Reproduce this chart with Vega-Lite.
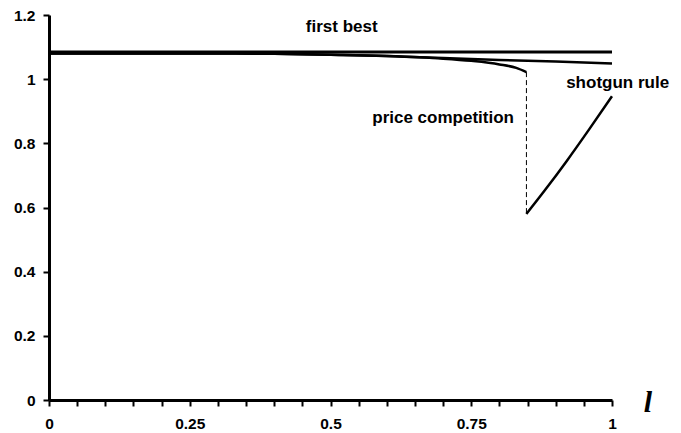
{
  "$schema": "https://vega.github.io/schema/vega-lite/v6.json",
  "width": 563,
  "height": 385,
  "autosize": {"type": "none"},
  "padding": {"left": 49, "top": 15, "right": 69, "bottom": 33},
  "background": "white",
  "config": {"view": {"stroke": null}, "font": "Liberation Sans"},
  "datasets": {
    "curves": [
      {"series": "first best", "x": 0, "y": 1.085},
      {"series": "first best", "x": 1, "y": 1.085},
      {"series": "shotgun rule", "x": 0, "y": 1.08},
      {"series": "shotgun rule", "x": 0.3, "y": 1.08},
      {"series": "shotgun rule", "x": 0.4, "y": 1.079},
      {"series": "shotgun rule", "x": 0.5, "y": 1.076},
      {"series": "shotgun rule", "x": 0.6, "y": 1.072},
      {"series": "shotgun rule", "x": 0.7, "y": 1.066},
      {"series": "shotgun rule", "x": 0.8, "y": 1.06},
      {"series": "shotgun rule", "x": 0.9, "y": 1.055},
      {"series": "shotgun rule", "x": 1, "y": 1.049},
      {"series": "price competition", "x": 0, "y": 1.08},
      {"series": "price competition", "x": 0.3, "y": 1.08},
      {"series": "price competition", "x": 0.4, "y": 1.079},
      {"series": "price competition", "x": 0.5, "y": 1.076},
      {"series": "price competition", "x": 0.6, "y": 1.072},
      {"series": "price competition", "x": 0.7, "y": 1.064},
      {"series": "price competition", "x": 0.75, "y": 1.057},
      {"series": "price competition", "x": 0.8, "y": 1.046},
      {"series": "price competition", "x": 0.83, "y": 1.035},
      {"series": "price competition", "x": 0.848, "y": 1.022},
      {"series": "price competition high l", "x": 0.848, "y": 0.58},
      {"series": "price competition high l", "x": 0.88, "y": 0.652},
      {"series": "price competition high l", "x": 0.92, "y": 0.746},
      {"series": "price competition high l", "x": 0.96, "y": 0.845},
      {"series": "price competition high l", "x": 1, "y": 0.947}
    ],
    "jump": [
      {"x": 0.848, "y": 1.022},
      {"x": 0.848, "y": 0.58}
    ],
    "labels": [
      {"label": "first best", "x": 0.52, "y": 1.162},
      {"label": "price competition", "x": 0.70, "y": 0.878},
      {"label": "shotgun rule", "x": 1.01, "y": 0.988}
    ],
    "axislabel": [
      {"label": "l", "x": 1.064, "y": -0.01}
    ]
  },
  "encoding": {
    "x": {
      "field": "x",
      "type": "quantitative",
      "scale": {"domain": [0, 1], "nice": false, "zero": false},
      "axis": {
        "title": null,
        "grid": false,
        "values": [0, 0.05, 0.1, 0.15, 0.2, 0.25, 0.3, 0.35, 0.4, 0.45, 0.5, 0.55, 0.6, 0.65, 0.7, 0.75, 0.8, 0.85, 0.9, 0.95, 1],
        "format": "~g",
        "labelExpr": "abs(datum.value * 4 - round(datum.value * 4)) < 0.000001 ? datum.label : ''",
        "domainColor": "black",
        "domainWidth": 3,
        "tickColor": "black",
        "tickWidth": 2,
        "tickSize": 6,
        "labelColor": "black",
        "labelFontSize": 15.5,
        "labelFontWeight": "bold",
        "labelPadding": 10,
        "labelFlush": false,
        "labelOverlap": false
      }
    },
    "y": {
      "field": "y",
      "type": "quantitative",
      "scale": {"domain": [0, 1.2], "nice": false, "zero": false},
      "axis": {
        "title": null,
        "grid": false,
        "values": [0, 0.2, 0.4, 0.6, 0.8, 1, 1.2],
        "format": "~g",
        "domainColor": "black",
        "domainWidth": 3,
        "tickColor": "black",
        "tickWidth": 2,
        "tickSize": 6,
        "labelColor": "black",
        "labelFontSize": 15.5,
        "labelFontWeight": "bold",
        "labelPadding": 8,
        "labelFlush": false
      }
    }
  },
  "layer": [
    {
      "data": {"name": "curves"},
      "transform": [{"filter": "datum.series == 'first best'"}],
      "mark": {"type": "line", "color": "black", "strokeWidth": 3},
      "encoding": {"detail": {"field": "series"}}
    },
    {
      "data": {"name": "curves"},
      "transform": [{"filter": "datum.series != 'first best'"}],
      "mark": {"type": "line", "color": "black", "strokeWidth": 2.5, "interpolate": "monotone"},
      "encoding": {"detail": {"field": "series"}}
    },
    {
      "data": {"name": "jump"},
      "mark": {"type": "line", "color": "black", "strokeWidth": 1, "strokeDash": [5, 3]},
      "encoding": {}
    },
    {
      "data": {"name": "labels"},
      "mark": {"type": "text", "font": "Liberation Sans", "fontSize": 17, "fontWeight": "bold", "color": "black", "align": "center", "baseline": "middle"},
      "encoding": {"text": {"field": "label"}}
    },
    {
      "data": {"name": "axislabel"},
      "mark": {"type": "text", "font": "Liberation Serif", "fontSize": 30, "fontStyle": "italic", "fontWeight": "bold", "color": "black", "align": "center", "baseline": "middle"},
      "encoding": {"text": {"field": "label"}}
    }
  ]
}
